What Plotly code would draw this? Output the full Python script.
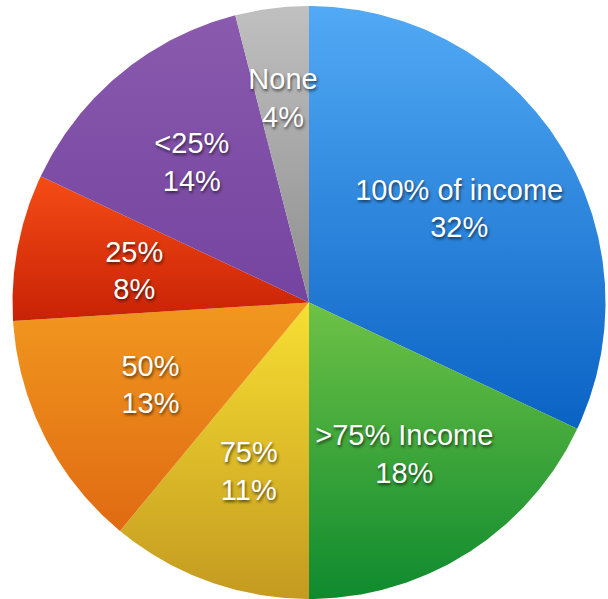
import numpy as np
import plotly.graph_objects as go

# Share of income saved, by category (clockwise from 12 o'clock)
labels = ["100% of income", ">75% Income", "75%", "50%", "25%", "<25%", "None"]
values = [32, 18, 11, 13, 8, 14, 4]

# Vertical gradient per slice: (top colour, bottom colour)
grad_top = ["#52AAF5", "#6EC246", "#F7DF32", "#F1981F", "#F54C15", "#8A5AAE", "#C0C0C0"]
grad_bot = ["#0A62C4", "#0E8A2E", "#C49A20", "#E06A12", "#C82206", "#7444A0", "#8E8E8E"]

# Radial position of each label, as a fraction of the radius
label_radius = [0.6, 0.6, 0.6, 0.6, 0.6, 0.62, 0.70]
label_drop = 4  # px, nudges label blocks slightly below the radial point

W, H = 608, 599
R_PX = 296.5
CX_PX, CY_PX = 309, 302.5

total = float(sum(values))
bounds = np.concatenate([[0.0], np.cumsum(values)]) / total * 2 * np.pi

fig = go.Figure()

for i, lab in enumerate(labels):
    a0, a1 = bounds[i], bounds[i + 1]
    n = max(8, int((a1 - a0) / (2 * np.pi) * 720))
    arc = np.linspace(a0, a1, n)
    xs = np.concatenate([[0.0], np.sin(arc), [0.0]])
    ys = np.concatenate([[0.0], np.cos(arc), [0.0]])
    fig.add_trace(go.Scatter(
        x=xs, y=ys, mode="lines", fill="toself",
        line=dict(width=0, color=grad_top[i]),
        fillgradient=dict(type="vertical",
                          colorscale=[[0, grad_bot[i]], [1, grad_top[i]]]),
        hoverinfo="skip", showlegend=False, name=lab,
    ))

mids = (bounds[:-1] + bounds[1:]) / 2
lx = [r * np.sin(m) for r, m in zip(label_radius, mids)]
ly = [r * np.cos(m) - label_drop / R_PX for r, m in zip(label_radius, mids)]
texts = [f"{lab}<br>{v:g}%" for lab, v in zip(labels, values)]

fig.add_trace(go.Scatter(
    x=lx, y=ly, mode="text", text=texts, textposition="middle center",
    textfont=dict(family="Liberation Sans, Arial, sans-serif", size=29, color="white",
                  shadow="1px 2px 3px rgba(0,0,0,0.6)"),
    hoverinfo="skip", showlegend=False,
))

fig.update_xaxes(visible=False, range=[-CX_PX / R_PX, (W - CX_PX) / R_PX], fixedrange=True)
fig.update_yaxes(visible=False, range=[-(H - CY_PX) / R_PX, CY_PX / R_PX], fixedrange=True)

fig.update_layout(
    width=W, height=H,
    margin=dict(l=0, r=0, t=0, b=0),
    paper_bgcolor="white",
    plot_bgcolor="white",
)

fig.write_html("out.html")
